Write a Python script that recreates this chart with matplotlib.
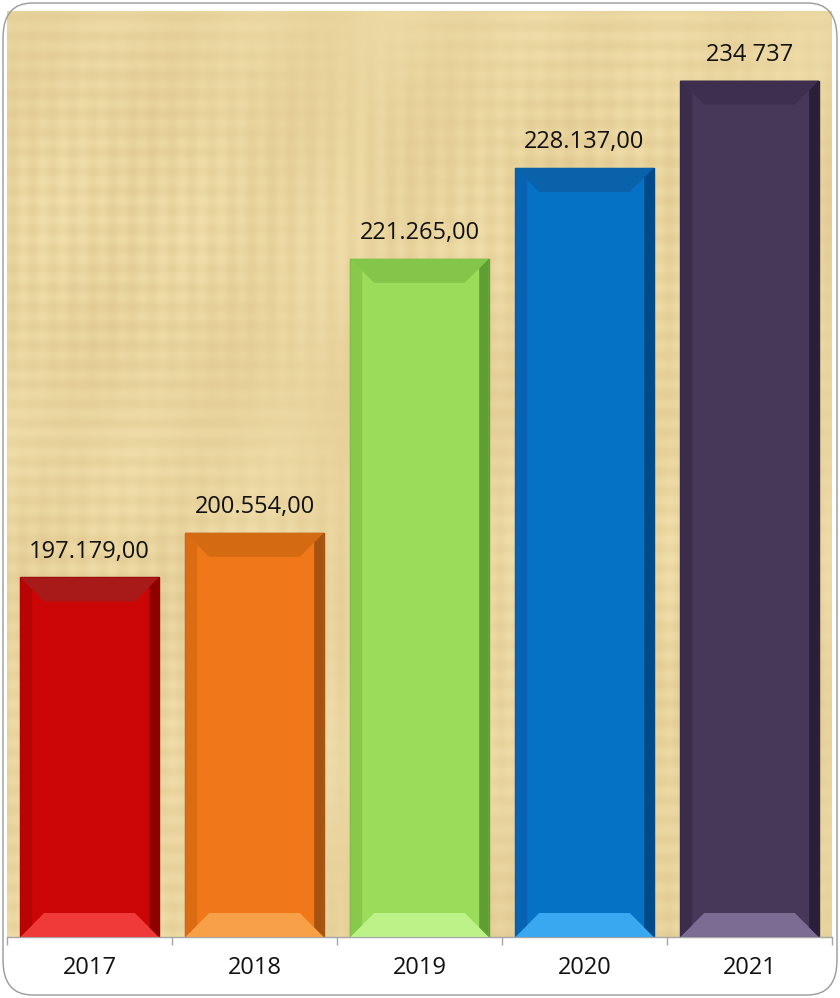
import numpy as np
import matplotlib
matplotlib.use("Agg")
from matplotlib import pyplot as plt
from matplotlib.patches import Polygon, FancyBboxPatch

years = ["2017", "2018", "2019", "2020", "2021"]
values = [197179.00, 200554.00, 221265.00, 228137.00, 234737.00]
labels = ["197.179,00", "200.554,00", "221.265,00", "228.137,00", "234 737"]

# base, top bevel, bottom bevel, left bevel, right bevel
colors = [
    ("#CC0606", "#A81A1A", "#F03A3A", "#B80404", "#8E0000"),
    ("#F07818", "#D46A12", "#F8A048", "#DC6C12", "#A65210"),
    ("#9ADD5A", "#84C64A", "#BCF288", "#88C84A", "#5E9E34"),
    ("#0672C6", "#0A62AA", "#3AA8F0", "#0864B2", "#004A8A"),
    ("#473758", "#3E2F4E", "#7C6C94", "#3C2D4C", "#2A1E38"),
]

ymin, ymax = 170000, 240000
W, H = 840, 998

plt.rcParams['font.family'] = ['Open Sans', 'DejaVu Sans']
fig = plt.figure(figsize=(W / 100, H / 100), dpi=100)
ax = fig.add_axes([7 / W, (H - 937) / H, 825 / W, 926 / H])

# papyrus-like background
xx, yy = np.meshgrid(np.linspace(0, 1, 400), np.linspace(0, 1, 450))
tex = (0.5 + 0.2 * np.sin(xx * 260) * np.sin(yy * 7)
       + 0.2 * np.sin(yy * 300) * np.sin(xx * 5 + 1)
       + 0.12 * np.sin(xx * 37 + yy * 11) + 0.1 * np.sin(yy * 23 - xx * 3))
bg = np.array([240, 222, 170]) / 255
dark = np.array([218, 190, 132]) / 255
img = bg[None, None, :] * (1 - tex[..., None] * 0.6) + dark[None, None, :] * tex[..., None] * 0.6
img = np.clip(img, 0, 1)
ax.imshow(img, extent=[-0.5, 4.5, ymin, ymax], aspect='auto', zorder=0)

x = np.arange(len(years))
bars = ax.bar(x, np.array(values) - ymin, bottom=ymin, width=0.84,
              color=[c[0] for c in colors], edgecolor=[c[4] for c in colors],
              linewidth=1.0, zorder=2)

ax.set_xlim(-0.5, 4.5)
ax.set_ylim(ymin, ymax)

# bevel
bev_px = 24
dy = bev_px / 926 * (ymax - ymin)
dx = bev_px / 165
for i, (b, c) in enumerate(zip(bars, colors)):
    x0, y0 = b.get_x(), b.get_y()
    x1, y1 = x0 + b.get_width(), y0 + b.get_height()
    top = Polygon([(x0, y1), (x1, y1), (x1 - dx, y1 - dy), (x0 + dx, y1 - dy)], color=c[1], zorder=3, lw=0)
    bot = Polygon([(x0, y0), (x1, y0), (x1 - dx, y0 + dy), (x0 + dx, y0 + dy)], color=c[2], zorder=3, lw=0)
    lft = Polygon([(x0, y0), (x0, y1), (x0 + dx * 0.5, y1 - dy * 0.5), (x0 + dx * 0.5, y0 + dy * 0.5)], color=c[3], zorder=3, lw=0)
    rgt = Polygon([(x1, y0), (x1, y1), (x1 - dx * 0.4, y1 - dy * 0.4), (x1 - dx * 0.4, y0 + dy * 0.4)], color=c[4], zorder=3, lw=0)
    for p in (top, bot, lft, rgt):
        ax.add_patch(p)
    ax.annotate(labels[i], (b.get_x() + b.get_width() / 2, y1),
                xytext=(0, 10), textcoords="offset points", ha="center", va="bottom",
                fontsize=17, color="#111111", zorder=4)

for s in ("top", "right", "left"):
    ax.spines[s].set_visible(False)
ax.spines["bottom"].set_color("#A6A6A6")
ax.spines["bottom"].set_linewidth(1.0)
ax.set_yticks([])
ax.set_xticks(x)
ax.set_xticklabels(years, fontsize=17, color="#111111")
ax.tick_params(axis="x", which="major", length=0, pad=14)
ax.set_xticks(np.arange(-0.5, 5, 1), minor=True)
ax.tick_params(axis="x", which="minor", length=6, color="#A6A6A6", width=1)

border = FancyBboxPatch((3 / W, 3 / H), (W - 6) / W, (H - 6) / H,
                        boxstyle="round,pad=0,rounding_size=0.035",
                        transform=fig.transFigure, fill=False,
                        edgecolor="#9A9A9A", linewidth=1.0, zorder=10)
fig.patches.append(border)

fig.savefig("out.png", dpi=100)
